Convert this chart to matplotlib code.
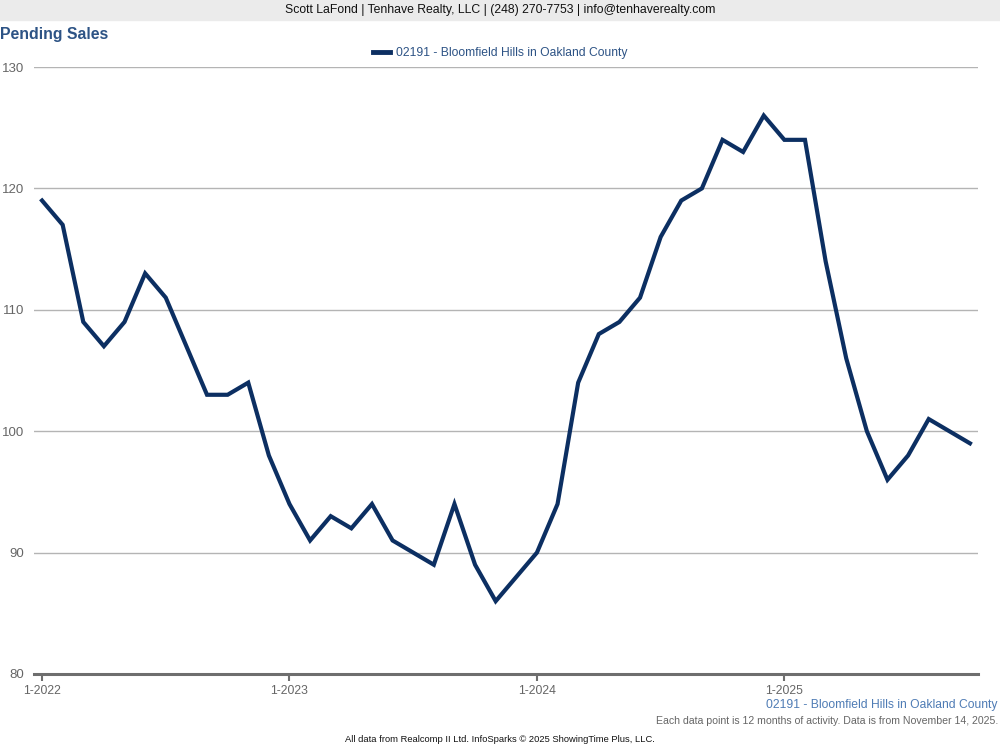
import numpy as np
import matplotlib
matplotlib.use("Agg")
import matplotlib.pyplot as plt
from matplotlib.lines import Line2D

plt.rcParams['font.family'] = ['Liberation Sans', 'DejaVu Sans']

months = ['1-2022', '2-2022', '3-2022', '4-2022', '5-2022', '6-2022', '7-2022', '8-2022',
          '9-2022', '10-2022', '11-2022', '12-2022',
          '1-2023', '2-2023', '3-2023', '4-2023', '5-2023', '6-2023', '7-2023', '8-2023',
          '9-2023', '10-2023', '11-2023', '12-2023',
          '1-2024', '2-2024', '3-2024', '4-2024', '5-2024', '6-2024', '7-2024', '8-2024',
          '9-2024', '10-2024', '11-2024', '12-2024',
          '1-2025', '2-2025', '3-2025', '4-2025', '5-2025', '6-2025', '7-2025', '8-2025',
          '9-2025', '10-2025']
pending = [119, 117, 109, 107, 109, 113, 111, 107, 103, 103, 104, 98,
           94, 91, 93, 92, 94, 91, 90, 89, 94, 89, 86, 88,
           90, 94, 104, 108, 109, 111, 116, 119, 120, 124, 123, 126,
           124, 124, 114, 106, 100, 96, 98, 101, 100, 99]
series_name = '02191 - Bloomfield Hills in Oakland County'
tick_labels = ['1-2022', '1-2023', '1-2024', '1-2025']
y_ticks = [80, 90, 100, 110, 120, 130]

line_color = '#0c2f62'

fig = plt.figure(figsize=(10, 7.5), dpi=100)
ax = fig.add_axes([0.034, 1 - 674 / 750, 0.944, (674 - 67) / 750])

x = np.arange(len(pending))
ax.plot(x, pending, color=line_color, lw=3.0, solid_joinstyle='miter', zorder=3)

ax.set_xlim(-0.39, len(pending) - 1 + 0.39)
ax.set_ylim(80, 130)
ax.set_yticks(y_ticks)
ax.set_yticklabels([str(v) for v in y_ticks])
ax.yaxis.grid(True, color='#b4b4b4', lw=1)
ax.set_axisbelow(True)
for s in ['top', 'right', 'left']:
    ax.spines[s].set_visible(False)
ax.spines['bottom'].set_color('#6e6e6e')
ax.spines['bottom'].set_linewidth(2.2)
ax.spines['bottom'].set_zorder(4)
ax.tick_params(axis='y', length=0, pad=7, labelsize=9.5, labelcolor='#666666')
ax.set_xticks([months.index(t) for t in tick_labels])
ax.set_xticklabels(tick_labels)
ax.tick_params(axis='x', length=5, width=1.5, color='#6e6e6e', pad=3,
               labelsize=8.8, labelcolor='#666666')

# header band
fig.patches.append(plt.Rectangle((0, 1 - 20 / 750), 1, 20 / 750, transform=fig.transFigure,
                                 color='#ebebeb', zorder=0))
fig.text(0.5, 1 - 10 / 750, 'Scott LaFond | Tenhave Realty, LLC | (248) 270-7753 | info@tenhaverealty.com',
         ha='center', va='center', fontsize=8.8, color='#111111')
fig.text(0.0, 1 - 34 / 750, 'Pending Sales', ha='left', va='center',
         fontsize=11.4, fontweight='bold', color='#2d5385')

handle = Line2D([], [], color=line_color, lw=3.5)
fig.legend([handle], [series_name], loc='center', bbox_to_anchor=(0.5, 1 - 53 / 750),
           frameon=False, fontsize=8.75, handlelength=1.4, handletextpad=0.5,
           labelcolor='#2d5385')

fig.text(0.998, 1 - 705 / 750, series_name, ha='right', va='center',
         fontsize=8.75, color='#4f7cb5')
fig.text(0.998, 1 - 721 / 750,
         'Each data point is 12 months of activity. Data is from November 14, 2025.',
         ha='right', va='center', fontsize=7.6, color='#666666')
fig.text(0.5, 1 - 740 / 750, 'All data from Realcomp II Ltd. InfoSparks \u00a9 2025 ShowingTime Plus, LLC.',
         ha='center', va='center', fontsize=6.75, color='#111111')

fig.savefig('out.png', dpi=100)
